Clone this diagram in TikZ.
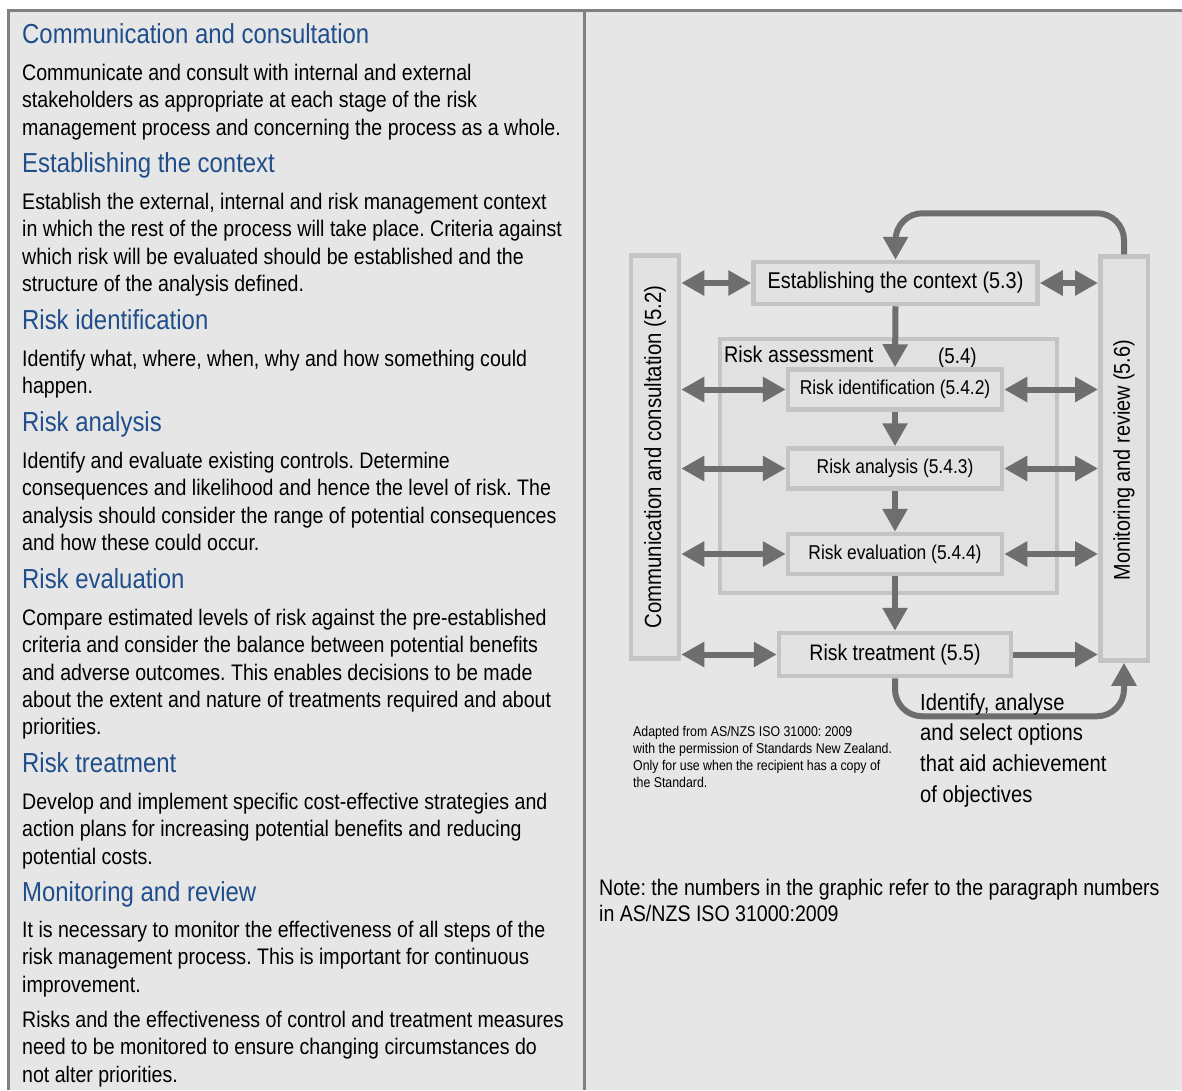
\documentclass[tikz,border=0pt]{standalone}
\usepackage{fontspec}
\setmainfont[FakeStretch=0.87]{Liberation Sans}
\usetikzlibrary{arrows.meta}
\frenchspacing
\definecolor{bg}{HTML}{E6E6E6}
\definecolor{framec}{HTML}{808080}
\definecolor{headblue}{HTML}{1F4E8B}
\definecolor{boxline}{HTML}{C4C4C4}
\definecolor{boxfill}{HTML}{E2E2E2}
\definecolor{rasfill}{HTML}{E1E1E1}
\definecolor{arrowc}{HTML}{6E6E6E}
\tikzset{
  framerule/.style={draw=framec, line width=3pt},
  head/.style={anchor=base west, inner sep=0pt, font=\fontsize{27.5}{30}\selectfont, text=headblue},
  body/.style={anchor=north west, inner sep=0pt, align=left, font=\fontsize{22.5}{27.4}\selectfont},
  box/.style={draw=boxline, fill=boxfill, line width=4.5pt, inner sep=0pt},
  vtext/.style={rotate=90, inner sep=0pt},
  tip/.tip={Triangle[length=23pt,width=24pt]},
  arr/.style={draw=arrowc, line width=6pt, -tip},
  darr/.style={draw=arrowc, line width=6pt, tip-tip},
}
\begin{document}
\frenchspacing
\begin{tikzpicture}[x=1pt,y=-1pt]
\useasboundingbox (0,0) rectangle (1182,1090);
\fill[white] (0,0) rectangle (1182,1090);
\fill[bg] (8,10) rectangle (1182,1090);
\draw[framerule] (8,1090) -- (8,10) -- (1182,10);
\draw[framerule] (584,10) -- (584,1090);

% ---------- left column ----------
\node[head] (h1) at (22,43) {Communication and consultation};
\node[body] (b1) at (22,60.82) {\strut Communicate and consult with internal and external\\stakeholders as appropriate at each stage of the risk\\management process and concerning the process as a whole.};
\node[head] (h2) at (22,172) {Establishing the context};
\node[body] (b2) at (22,189.82) {\strut Establish the external, internal and risk management context\\in which the rest of the process will take place. Criteria against\\which risk will be evaluated should be established and the\\structure of the analysis defined.};
\node[head] (h3) at (22,329) {Risk identification};
\node[body] (b3) at (22,346.82) {\strut Identify what, where, when, why and how something could\\happen.};
\node[head] (h4) at (22,431) {Risk analysis};
\node[body] (b4) at (22,448.82) {\strut Identify and evaluate existing controls. Determine\\consequences and likelihood and hence the level of risk. The\\analysis should consider the range of potential consequences\\and how these could occur.};
\node[head] (h5) at (22,588) {Risk evaluation};
\node[body] (b5) at (22,605.82) {\strut Compare estimated levels of risk against the pre-established\\criteria and consider the balance between potential benefits\\and adverse outcomes. This enables decisions to be made\\about the extent and nature of treatments required and about\\priorities.};
\node[head] (h6) at (22,772) {Risk treatment};
\node[body] (b6) at (22,789.82) {\strut Develop and implement specific cost-effective strategies and\\action plans for increasing potential benefits and reducing\\potential costs.};
\node[head] (h7) at (22,901) {Monitoring and review};
\node[body] (b7) at (22,917.82) {\strut It is necessary to monitor the effectiveness of all steps of the\\risk management process. This is important for continuous\\improvement.};
\node[body] (b8) at (22,1007.82) {\strut Risks and the effectiveness of control and treatment measures\\need to be monitored to ensure changing circumstances do\\not alter priorities.};

% ---------- diagram ----------
\node[box, minimum width=48pt, minimum height=403pt] (cc) at (655,457) {};
\node[vtext, font=\fontsize{23.4}{27}\selectfont] (cct) at (cc.center) {Communication and consultation (5.2)};
\node[box, minimum width=47.5pt, minimum height=404pt] (mr) at (1124,458.5) {};
\node[vtext, font=\fontsize{22.8}{27}\selectfont] (mrt) at (1124,460) {Monitoring and review (5.6)};

\node[box, fill=rasfill, line width=4pt, minimum width=337pt, minimum height=254pt] (ras) at (888,466) {};
\node[anchor=base west, inner sep=0pt, font=\fontsize{22.7}{26}\selectfont] (rast) at (724,362) {Risk assessment};
\node[anchor=base west, inner sep=0pt, font=\fontsize{21.5}{25}\selectfont] (rasn) at (938,363) {(5.4)};

\node[box, minimum width=284pt, minimum height=42pt, font=\fontsize{22.8}{26}\selectfont] (est) at (895.5,283) {Establishing the context (5.3)};
\node[box, minimum width=214pt, minimum height=40pt, font=\fontsize{20}{23}\selectfont] (ri) at (895,389.5) {Risk identification (5.4.2)};
\node[box, minimum width=214pt, minimum height=40pt, font=\fontsize{20}{23}\selectfont] (ra) at (895,468.5) {Risk analysis (5.4.3)};
\node[box, minimum width=214pt, minimum height=40pt, font=\fontsize{20}{23}\selectfont] (re) at (895,554) {Risk evaluation (5.4.4)};
\node[box, minimum width=232pt, minimum height=43pt, font=\fontsize{22.4}{26}\selectfont] (rt) at (895,654.5) {Risk treatment (5.5)};

\draw[darr] (cc.east |- est.west) -- (est.west);
\draw[darr] (est.east) -- (mr.west |- est.east);
\draw[darr] (cc.east |- ri.west) -- (ri.west);
\draw[darr] (ri.east) -- (mr.west |- ri.east);
\draw[darr] (cc.east |- ra.west) -- (ra.west);
\draw[darr] (ra.east) -- (mr.west |- ra.east);
\draw[darr] (cc.east |- re.west) -- (re.west);
\draw[darr] (re.east) -- (mr.west |- re.east);
\draw[darr] (cc.east |- rt.west) -- (rt.west);
\draw[arr] (rt.east) -- (mr.west |- rt.east);

\draw[arr] (est.south) -- (ri.north);
\draw[arr] (ri.south) -- (ra.north);
\draw[arr] (ra.south) -- (re.north);
\draw[arr] (re.south) -- (rt.north);

\draw[arr, rounded corners=27pt] (mr.north) -- ++(0,-41) -| (est.north);
\draw[arr, rounded corners=27pt] (rt.south) -- ++(0,38) -| (mr.south);

\node[anchor=north west, align=left, inner sep=0pt, font=\fontsize{23.2}{30.6}\selectfont] (obj) at (920,688.58) {\strut Identify, analyse\\and select options\\that aid achievement\\of objectives};
\node[anchor=north west, align=left, inner sep=0pt, font=\fontsize{14.2}{17.2}\selectfont] (cite) at (633,723.96) {\strut Adapted from AS/NZS ISO 31000: 2009\\with the permission of Standards New Zealand.\\Only for use when the recipient has a copy of\\the Standard.};
\node[anchor=north west, align=left, inner sep=0pt, font=\fontsize{22.5}{26.7}\selectfont] (note) at (599,876.31) {\strut Note: the numbers in the graphic refer to the paragraph numbers\\in AS/NZS ISO 31000:2009};
\end{tikzpicture}
\end{document}
